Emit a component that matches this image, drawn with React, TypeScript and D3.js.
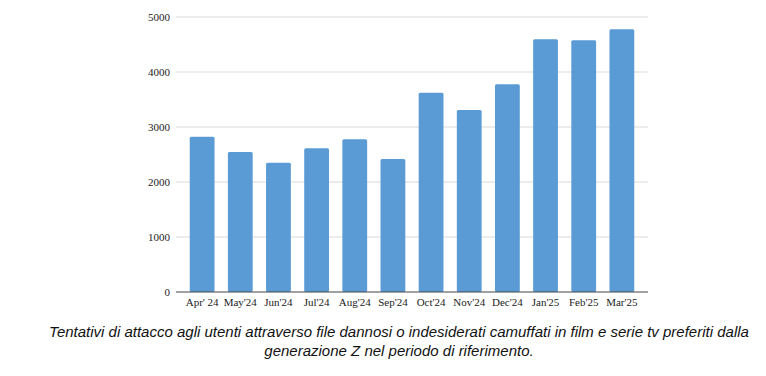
import React from "react";
import * as d3 from "d3";

const categories = ["Apr' 24", "May'24", "Jun'24", "Jul'24", "Aug'24", "Sep'24", "Oct'24", "Nov'24", "Dec'24", "Jan'25", "Feb'25", "Mar'25"];
const values = [2824, 2545, 2351, 2613, 2776, 2418, 3624, 3309, 3776, 4594, 4576, 4776];
const yTicks = [0, 1000, 2000, 3000, 4000, 5000];
const captionLines = [
  "Tentativi di attacco agli utenti attraverso file dannosi o indesiderati camuffati in film e serie tv preferiti dalla",
  "generazione Z nel periodo di riferimento.",
];

export default function App() {
  const W = 766, H = 376;
  const left = 176, right = 648, top = 17, bottom = 292;
  const x = d3.scaleBand<string>().domain(categories).range([left, right]).paddingInner(0.35).paddingOuter(0.36);
  const y = d3.scaleLinear().domain([0, 5000]).range([bottom, top]);
  const serif: React.CSSProperties = { fontFamily: '"Liberation Serif", "DejaVu Serif", serif', fontSize: 11 };
  return (
    <svg width={W} height={H} style={{ position: "absolute", left: 0, top: 0, background: "#fff" }}>
      {yTicks.map((t) => (
        <g key={t}>
          {t > 0 && <line x1={left} x2={right} y1={y(t)} y2={y(t)} stroke="#d9d9d9" strokeWidth={1} />}
          <text x={170} y={y(t)} dy="0.35em" textAnchor="end" style={serif} fill="#222">{t}</text>
        </g>
      ))}
      {categories.map((c, i) => (
        <rect key={c} x={x(c)} y={y(values[i])} width={x.bandwidth()} height={bottom - y(values[i])} rx={1.5} fill="#5b9bd5" />
      ))}
      <line x1={left} x2={right} y1={bottom} y2={bottom} stroke="#444" strokeWidth={1} />
      {categories.map((c) => (
        <text key={c} x={(x(c) as number) + x.bandwidth() / 2} y={306} textAnchor="middle" style={serif} fill="#222">{c}</text>
      ))}
      {captionLines.map((l, i) => (
        <text key={i} x={W / 2 + 16} y={337 + i * 19} textAnchor="middle" style={{ fontFamily: '"Liberation Sans", Arial, sans-serif', fontStyle: "italic", fontSize: 15 }} fill="#111">{l}</text>
      ))}
    </svg>
  );
}
